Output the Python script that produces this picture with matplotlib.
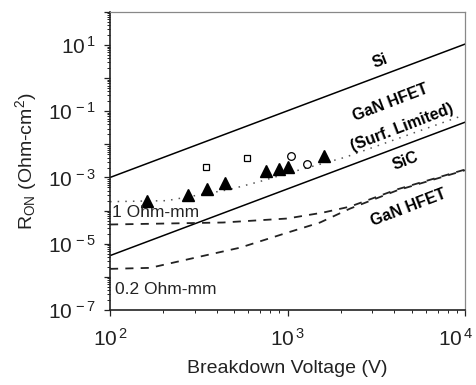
import numpy as np
import matplotlib
matplotlib.use("Agg")
import matplotlib.pyplot as plt
from matplotlib.ticker import LogLocator, FixedLocator, FixedFormatter, NullFormatter
from matplotlib.transforms import ScaledTranslation

plt.rcParams["font.family"] = ["Liberation Sans", "DejaVu Sans"]
plt.rcParams["mathtext.fontset"] = "custom"
plt.rcParams["mathtext.rm"] = "Liberation Sans"
plt.rcParams["mathtext.it"] = "Liberation Sans:italic"
plt.rcParams["mathtext.bf"] = "Liberation Sans:bold"

# ---- data ----
si_v = [100, 10000]
si_r = [1e-3, 1.07e1]

sic_v = [100, 10000]
sic_r = [10 ** -5.36, 10 ** -1.33]

surf_v = [100, 209, 474, 700, 1033, 2110, 9800]
surf_r = [10 ** -3.73, 10 ** -3.70, 10 ** -3.36, 10 ** -3.12, 10 ** -2.85, 10 ** -2.39, 10 ** -1.12]

gan_1_v = [100, 433, 993, 1585, 2249, 4140, 10000]
gan_1_r = [10 ** -4.42, 10 ** -4.36, 10 ** -4.24, 10 ** -4.06, 10 ** -3.88, 10 ** -3.36, 10 ** -2.76]

gan_02_v = [100, 168, 321, 540, 993, 1524, 2249, 4140, 10000]
gan_02_r = [10 ** -5.76, 10 ** -5.73, 10 ** -5.39, 10 ** -5.12, 10 ** -4.67, 10 ** -4.36, 10 ** -3.94, 10 ** -3.39, 10 ** -2.78]

tri_v = [162, 275, 352, 444, 757, 896, 1007, 1607]
tri_r = [10 ** -3.70, 10 ** -3.52, 10 ** -3.36, 10 ** -3.18, 10 ** -2.79, 10 ** -2.73, 10 ** -2.67, 10 ** -2.36]

sq_v = [348, 591]
sq_r = [10 ** -2.67, 10 ** -2.42]

circ_v = [1047, 1290]
circ_r = [10 ** -2.36, 10 ** -2.58]

y_exponents = list(range(-7, 3))
y_labelled = [-7, -5, -3, -1, 1]
x_tick_vals = [1e2, 1e3, 1e4]
x_tick_labels = ["$10^{\\,2}$", "$10^{\\,3}$", "$10^{\\,4}$"]

fig = plt.figure(figsize=(4.77, 3.85), dpi=100)
ax = fig.add_axes([0.2306, 0.195, 0.7444, 0.774])

ax.plot(si_v, si_r, color="black", lw=1.1)
ax.plot(sic_v, sic_r, color="black", lw=1.1)
ax.plot(surf_v, surf_r, color="#555555", lw=1.1, linestyle=(0, (1, 4)))
ax.plot(gan_1_v, gan_1_r, color="#222222", lw=1.3, linestyle=(0, (4.5, 4)))
ax.plot(gan_02_v, gan_02_r, color="#222222", lw=1.3, linestyle=(0, (4.5, 4)))

ax.plot(tri_v, tri_r, linestyle="none", marker="^", ms=8.5, color="black")
ax.plot(sq_v, sq_r, linestyle="none", marker="s", ms=5, mfc="white", mec="black", mew=0.9)
ax.plot(circ_v, circ_r, linestyle="none", marker="o", ms=5.5, mfc="white", mec="black", mew=0.9)

ax.set_xscale("log")
ax.set_yscale("log")
ax.set_xlim(1e2, 1e4)
ax.set_ylim(1e-7, 1e2)

# ticks
ax.xaxis.set_major_locator(FixedLocator(x_tick_vals))
ax.xaxis.set_major_formatter(FixedFormatter(x_tick_labels))
ax.xaxis.set_minor_locator(LogLocator(base=10, subs=np.arange(2, 10), numticks=50))
ax.xaxis.set_minor_formatter(NullFormatter())
ax.yaxis.set_minor_locator(LogLocator(base=10, subs=np.arange(2, 10), numticks=50))
ax.yaxis.set_minor_formatter(NullFormatter())
ax.set_yticks([10.0 ** e for e in y_exponents])
ax.set_yticklabels(["$10^{\\,%d}$" % e if e in y_labelled else "" for e in y_exponents])

ax.tick_params(which="major", direction="out", length=4, width=0.9, labelsize=15, colors="#222222")
ax.tick_params(which="minor", direction="out", length=2, width=0.7, colors="#222222")
ax.tick_params(axis="x", pad=9)
ax.tick_params(axis="y", pad=6)

# last x label sits at the figure edge; nudge it left so it stays whole
last = ax.get_xticklabels()[-1]
last.set_transform(last.get_transform() + ScaledTranslation(-7 / 72, 0, fig.dpi_scale_trans))

for side in ("top", "right"):
    ax.spines[side].set_color("#888888")
    ax.spines[side].set_linewidth(0.9)
for side in ("left", "bottom"):
    ax.spines[side].set_color("#222222")
    ax.spines[side].set_linewidth(1.2)

ax.set_xlabel("Breakdown Voltage (V)", fontsize=14, color="#222222", labelpad=7)
ax.set_ylabel("R$_{\\mathrm{ON}}$ (Ohm-cm$^{2}$)", fontsize=14, color="#222222", labelpad=6)

# annotations
lab = dict(fontsize=11.5, fontweight="bold", rotation=21, ha="center", va="center", color="black")
ax.text(3320, 10 ** 0.515, "Si", **lab)
ax.text(3776, 10 ** -0.727, "GaN HFET", **lab)
ax.text(4416, 10 ** -1.485, "(Surf. Limited)", **lab)
ax.text(4592, 10 ** -2.515, "SiC", **lab)
ax.text(4776, 10 ** -3.91, "GaN HFET", **lab)
ax.text(102.6, 10 ** -4.06, "1 Ohm-mm", fontsize=12.5, ha="left", va="center", color="#222222")
ax.text(107, 10 ** -6.39, "0.2 Ohm-mm", fontsize=12.5, ha="left", va="center", color="#222222")

fig.savefig("out.png", dpi=100)
